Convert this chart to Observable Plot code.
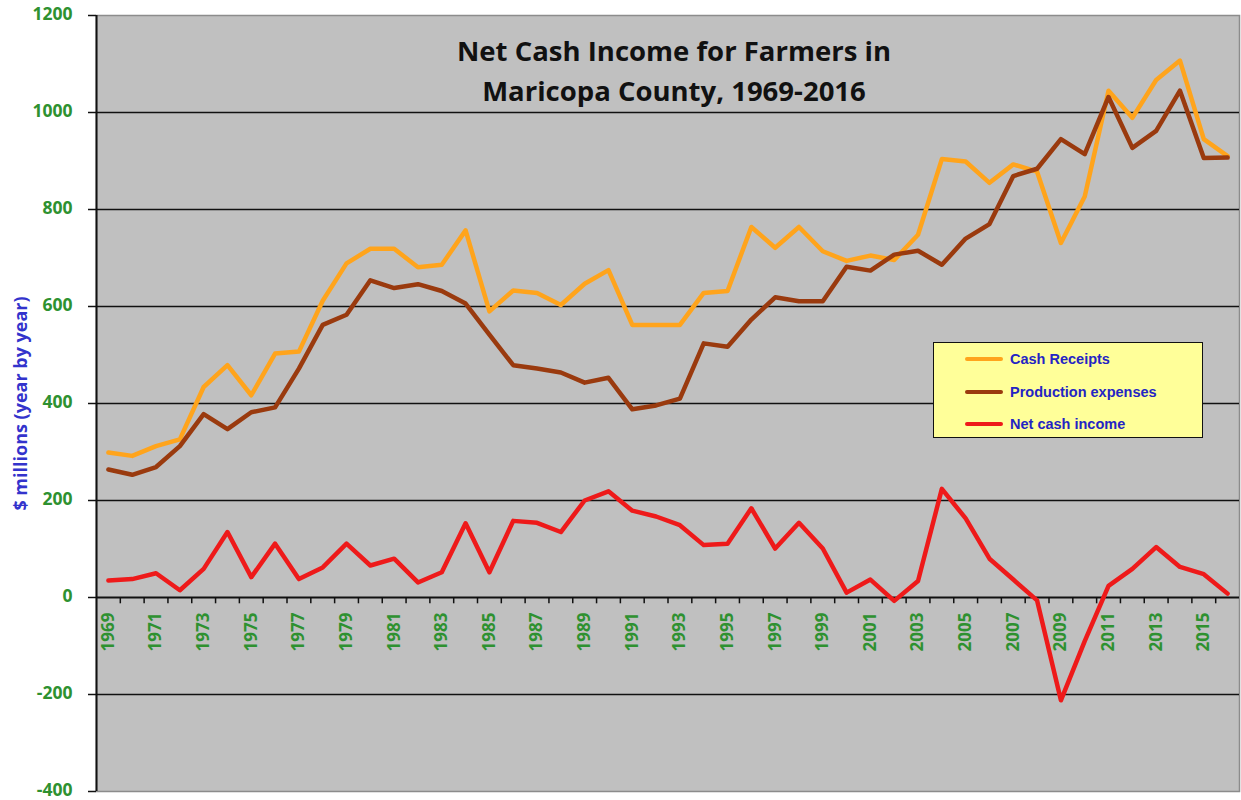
<!DOCTYPE html>
<html>
<head>
<meta charset="utf-8">
<script src="https://cdn.jsdelivr.net/npm/d3@7"></script>
<script src="https://cdn.jsdelivr.net/npm/@observablehq/plot@0.6"></script>
<style>
  html, body { margin: 0; padding: 0; background: white; }
  #wrap { position: relative; width: 1241px; height: 800px; }
  #legend { position: absolute; left: 933px; top: 342px; width: 270px; height: 96px; box-sizing: border-box;
    background: #ffff99; border: 1.5px solid #111; font-family: "Liberation Sans", sans-serif; font-weight: bold;
    font-size: 14.5px; color: #2424c4; }
  .row { position: absolute; left: 0; height: 20px; display: flex; align-items: center; }
  .sw { width: 38px; height: 4px; margin-left: 31px; margin-right: 7px; border-radius: 2px; }
</style>
</head>
<body>
<div id="wrap"></div>
<script>
const years = d3.range(1969, 2017);
const cashReceipts = [299,292,312,326,434,479,417,503,507,612,
  689,719,719,681,686,757,590,633,628,603,
  647,675,562,562,562,628,632,764,721,764,
  714,694,705,696,748,904,899,855,893,878,
  731,827,1045,989,1067,1107,945,910];
const productionExpenses = [264,253,269,312,378,347,382,392,472,562,
  583,654,638,646,632,606,542,479,472,464,
  443,453,388,396,410,524,517,573,619,611,
  611,682,674,707,715,686,740,770,869,884,
  945,914,1032,927,962,1045,906,907];
const netCashIncome = [35,38,50,15,59,135,42,111,38,62,
  111,66,80,31,52,153,52,158,154,135,
  200,219,179,167,149,108,111,184,101,154,
  101,10,37,-7,34,224,163,80,37,-6,
  -212,-90,24,59,104,63,48,8];
const seriesNames = ["Cash Receipts", "Production expenses", "Net cash income"];
const seriesColors = ["#ffa41c", "#9a3a0e", "#ee1a1a"];
const yTicks = [-400, -200, 0, 200, 400, 600, 800, 1000, 1200];
const gridValues = [-200, 200, 400, 600, 800, 1000];
const xLabelYears = years.filter(y => (y - 1969) % 2 === 0 && y < 2016);
const titleText = "Net Cash Income for Farmers in\nMaricopa County, 1969-2016";
const yLabel = "$ millions (year by year)";

const rows = [];
[cashReceipts, productionExpenses, netCashIncome].forEach((arr, s) => {
  arr.forEach((v, i) => rows.push({year: years[i], value: v, series: seriesNames[s]}));
});
const boundaries = d3.range(years[0] - 0.5, years[years.length - 1] + 1, 1).slice(1, -1);

const green = "#2e9130";
const font = "'Open Sans', sans-serif";
const chart = Plot.plot({
  width: 1241,
  height: 800,
  marginLeft: 96,
  marginRight: 2,
  marginTop: 15,
  marginBottom: 9,
  style: {fontFamily: font, background: "white"},
  x: {domain: [years[0] - 0.5, years[years.length - 1] + 0.5], axis: null},
  y: {domain: [-400, 1200], axis: null},
  color: {domain: seriesNames, range: seriesColors},
  marks: [
    Plot.frame({fill: "#c0c0c0", stroke: "#8c8c8c", strokeWidth: 1.5}),
    Plot.ruleY(gridValues, {stroke: "#111", strokeWidth: 1.5}),
    Plot.ruleY([0], {stroke: "#111", strokeWidth: 2}),
    Plot.ruleX(boundaries, {x: d => d, y1: () => 0, y2: () => -13, stroke: "#111", strokeWidth: 1.5}),
    Plot.ruleX([years[0] - 0.5], {stroke: "#111", strokeWidth: 2}),
    Plot.axisY(yTicks, {tickSize: 8, stroke: "#111", strokeWidth: 1.5, text: null, label: null}),
    Plot.text(yTicks, {frameAnchor: "left", y: d => d, text: d => String(d), dx: -24, dy: -1.5, textAnchor: "end",
      fill: green, fontSize: 17.5, fontWeight: "bold"}),
    Plot.text(xLabelYears, {x: d => d, y: () => 0, text: d => String(d), rotate: -90, textAnchor: "end", dy: 15,
      fill: green, fontSize: 17, fontWeight: "bold"}),
    Plot.text([yLabel], {frameAnchor: "left", textAnchor: "middle", dx: -75, rotate: -90, fill: "#3333cc", fontSize: 18, fontWeight: "bold", text: d => d}),
    Plot.text([titleText], {frameAnchor: "top", dx: 6, dy: 17, text: d => d, fontSize: 27.5, fontWeight: "bold", lineHeight: 1.45, fill: "#111"}),
    Plot.line(rows, {x: "year", y: "value", stroke: "series", z: "series", strokeWidth: 4.5, strokeLinejoin: "round"})
  ]
});
const wrap = document.getElementById("wrap");
wrap.appendChild(chart);

const legend = document.createElement("div");
legend.id = "legend";
const rowTops = [6, 39, 71];
seriesNames.forEach((name, i) => {
  const r = document.createElement("div");
  r.className = "row";
  r.style.top = rowTops[i] + "px";
  const sw = document.createElement("div");
  sw.className = "sw";
  sw.style.background = seriesColors[i];
  const t = document.createElement("span");
  t.textContent = name;
  r.appendChild(sw); r.appendChild(t);
  legend.appendChild(r);
});
wrap.appendChild(legend);
</script>
</body>
</html>
